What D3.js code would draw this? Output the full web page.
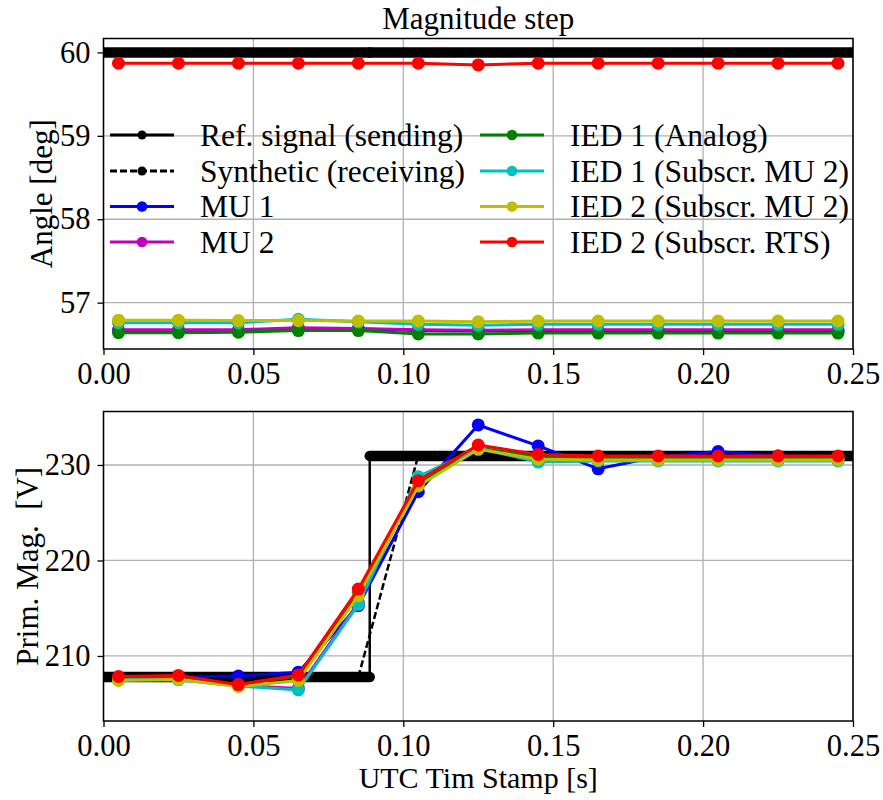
<!DOCTYPE html>
<html>
<head>
<meta charset="utf-8">
<script src="https://cdn.jsdelivr.net/npm/d3@7"></script>
<style>
  body { margin: 0; background: #fff; }
  text { font-family: "Liberation Serif", "Times New Roman", serif; fill: #000; }
</style>
</head>
<body>
<div id="chart"></div>
<script>
// sample instants of the reporting devices [s]
const sampleTime = [0.005, 0.025, 0.045, 0.065, 0.085, 0.105, 0.125, 0.145, 0.165, 0.185, 0.205, 0.225, 0.245];
const timeTicks = [0, 0.05, 0.10, 0.15, 0.20, 0.25];
const angleTicks = [57, 58, 59, 60];
const magTicks = [210, 220, 230];

// reference signal (sending), drawn as a step
const refTime = [0, 0.0888, 0.0888, 0.25];
const refAngle = [60, 60, 60, 60];
const refMag = [207.8, 207.8, 230.95, 230.95];

// angle [deg]
const synthAngle = [60, 60, 60, 60, 60, 60, 60, 60, 60, 60, 60, 60, 60];
const mu1Angle = [56.665, 56.665, 56.665, 56.69, 56.685, 56.665, 56.66, 56.665, 56.665, 56.665, 56.665, 56.665, 56.665];
const mu2Angle = [56.675, 56.675, 56.675, 56.70, 56.69, 56.675, 56.67, 56.675, 56.675, 56.675, 56.675, 56.675, 56.675];
const ied1AnalogAngle = [56.64, 56.64, 56.645, 56.665, 56.665, 56.625, 56.625, 56.635, 56.635, 56.635, 56.635, 56.635, 56.635];
const ied1Mu2Angle = [56.76, 56.76, 56.76, 56.80, 56.77, 56.74, 56.73, 56.74, 56.74, 56.74, 56.74, 56.74, 56.74];
const ied2Mu2Angle = [56.79, 56.79, 56.785, 56.785, 56.78, 56.78, 56.77, 56.78, 56.78, 56.78, 56.78, 56.78, 56.78];
const ied2RtsAngle = [59.87, 59.87, 59.87, 59.87, 59.87, 59.87, 59.85, 59.87, 59.87, 59.87, 59.87, 59.87, 59.87];

// primary magnitude [V]
const synthMag = [207.8, 207.8, 207.8, 207.8, 207.8, 231.0, 231.0, 230.95, 230.95, 230.95, 230.95, 230.95, 230.95];
const mu1Mag = [207.75, 207.8, 207.9, 208.3, 215.27, 227.2, 234.19, 232.0, 229.6, 230.85, 231.4, 230.95, 230.85];
const mu2Mag = [207.55, 207.6, 206.9, 206.6, 215.6, 228.5, 231.7, 230.4, 230.5, 230.5, 230.5, 230.5, 230.5];
const ied1AnalogMag = [207.6, 207.7, 207.0, 207.9, 216.6, 228.0, 231.8, 230.8, 230.7, 230.7, 230.7, 230.7, 230.7];
const ied1Mu2Mag = [207.5, 207.5, 206.86, 206.44, 215.4, 228.78, 231.78, 230.3, 230.42, 230.42, 230.42, 230.42, 230.42];
const ied2Mu2Mag = [207.43, 207.54, 206.8, 207.43, 216.3, 227.8, 231.64, 230.6, 230.52, 230.52, 230.52, 230.52, 230.52];
const ied2RtsMag = [207.85, 207.96, 207.0, 208.0, 217.0, 228.36, 232.09, 231.1, 230.94, 230.94, 230.94, 230.94, 230.94];

const seriesNames = ["MU 1", "MU 2", "IED 1 (Analog)", "IED 1 (Subscr. MU 2)", "IED 2 (Subscr. MU 2)", "IED 2 (Subscr. RTS)"];
const seriesColors = ["#0000ff", "#bf00bf", "#008000", "#00bfbf", "#bfbf00", "#ff0000"];
const angleSeries = [mu1Angle, mu2Angle, ied1AnalogAngle, ied1Mu2Angle, ied2Mu2Angle, ied2RtsAngle];
const magSeries = [mu1Mag, mu2Mag, ied1AnalogMag, ied1Mu2Mag, ied2Mu2Mag, ied2RtsMag];

const width = 883, height = 800;
const tickFont = 30.5, labelFont = 31, legendFont = 31.5;
const left = 103.5, right = 853;

const svg = d3.select("#chart").append("svg")
  .attr("width", width)
  .attr("height", height);

const xScale = d3.scaleLinear().domain([0, 0.25]).range([left, right]);

// draws one subplot: grid, data, spines and ticks
const draw_panel = function(cfg) {
  const yScale = d3.scaleLinear().domain(cfg.domain).range([cfg.bottom, cfg.top]);
  const clipId = "clip-" + cfg.id;
  svg.append("clipPath").attr("id", clipId)
    .append("rect")
    .attr("x", left).attr("y", cfg.top)
    .attr("width", right - left).attr("height", cfg.bottom - cfg.top);

  // grid
  const grid = svg.append("g");
  grid.selectAll("line.gx").data(timeTicks).join("line")
    .attr("x1", d => xScale(d)).attr("x2", d => xScale(d))
    .attr("y1", cfg.top).attr("y2", cfg.bottom)
    .attr("stroke", "#b0b0b0").attr("stroke-width", 1.3);
  grid.selectAll("line.gy").data(cfg.ticks).join("line")
    .attr("y1", d => yScale(d)).attr("y2", d => yScale(d))
    .attr("x1", left).attr("x2", right)
    .attr("stroke", "#b0b0b0").attr("stroke-width", 1.3);

  const plot = svg.append("g").attr("clip-path", `url(#${clipId})`);

  // reference signal: dense samples form a thick band, joined by a thin line
  const refPts = refTime.map((t, i) => ({t: t, v: cfg.ref[i]}));
  const thin = d3.line().x(d => xScale(d.t)).y(d => yScale(d.v));
  plot.append("path").attr("d", thin(refPts))
    .attr("fill", "none").attr("stroke", "#000").attr("stroke-width", 2.5);
  [[refPts[0], refPts[1]], [refPts[2], refPts[3]]].forEach(seg => {
    plot.append("path").attr("d", thin(seg))
      .attr("fill", "none").attr("stroke", "#000")
      .attr("stroke-width", 10.5).attr("stroke-linecap", "round");
  });

  // synthetic (receiving), dashed
  const synthPts = sampleTime.map((t, i) => ({t: t, v: cfg.synth[i]}));
  plot.append("path").attr("d", thin(synthPts))
    .attr("fill", "none").attr("stroke", "#000").attr("stroke-width", 2.5)
    .attr("stroke-dasharray", "7,3");
  plot.selectAll("circle.synth").data(synthPts).join("circle")
    .attr("cx", d => xScale(d.t)).attr("cy", d => yScale(d.v))
    .attr("r", 4.5).attr("fill", "#000");

  // device series
  cfg.series.forEach((vals, k) => {
    const pts = sampleTime.map((t, i) => ({t: t, v: vals[i]}));
    plot.append("path").attr("d", thin(pts))
      .attr("fill", "none").attr("stroke", seriesColors[k]).attr("stroke-width", 3);
    plot.selectAll("circle.s" + k).data(pts).join("circle")
      .attr("cx", d => xScale(d.t)).attr("cy", d => yScale(d.v))
      .attr("r", 6.5).attr("fill", seriesColors[k]);
  });

  // spines
  svg.append("rect")
    .attr("x", left).attr("y", cfg.top)
    .attr("width", right - left).attr("height", cfg.bottom - cfg.top)
    .attr("fill", "none").attr("stroke", "#000").attr("stroke-width", 1.5);

  // x axis ticks
  const xAxis = svg.append("g")
    .attr("transform", "translate(0," + cfg.bottom + ")")
    .call(d3.axisBottom(xScale).tickValues(timeTicks).tickFormat(d3.format(".2f"))
      .tickSize(6).tickPadding(7));
  xAxis.select(".domain").remove();
  xAxis.selectAll("line").attr("stroke-width", 1.3);
  xAxis.selectAll("text").style("font-size", tickFont + "px")
    .style("font-family", "Liberation Serif");

  // y axis ticks
  const yAxis = svg.append("g")
    .attr("transform", "translate(" + left + ",0)")
    .call(d3.axisLeft(yScale).tickValues(cfg.ticks).tickFormat(d3.format("d"))
      .tickSize(6).tickPadding(7));
  yAxis.select(".domain").remove();
  yAxis.selectAll("line").attr("stroke-width", 1.3);
  yAxis.selectAll("text").style("font-size", tickFont + "px")
    .style("font-family", "Liberation Serif");

  // y label
  svg.append("text")
    .attr("transform", `translate(${cfg.labelX},${(cfg.top + cfg.bottom) / 2}) rotate(-90)`)
    .attr("text-anchor", "middle")
    .attr("dominant-baseline", "central")
    .style("font-size", labelFont + "px")
    .style("white-space", "pre")
    .text(cfg.label);
  return yScale;
};

draw_panel({id: "angle", top: 38.5, bottom: 349, domain: [56.444, 60.167], ticks: angleTicks,
  ref: refAngle, synth: synthAngle, series: angleSeries, label: "Angle [deg]", labelX: 41});
draw_panel({id: "mag", top: 411.5, bottom: 721, domain: [203.19, 235.6], ticks: magTicks,
  ref: refMag, synth: synthMag, series: magSeries, label: "Prim. Mag.  [V]", labelX: 27});

// title and x label
svg.append("text")
  .attr("x", (left + right) / 2).attr("y", 29)
  .attr("text-anchor", "middle")
  .style("font-size", labelFont + "px")
  .text("Magnitude step");
svg.append("text")
  .attr("x", (left + right) / 2).attr("y", 788)
  .attr("text-anchor", "middle")
  .style("font-size", "30px")
  .text("UTC Tim Stamp [s]");

// legend (two columns, no frame)
const legendItems = [
  {name: "Ref. signal (sending)", color: "#000", dash: null, r: 4.5},
  {name: "Synthetic (receiving)", color: "#000", dash: "7,3", r: 4.5}
].concat(seriesNames.map((n, i) => ({name: n, color: seriesColors[i], dash: null, r: 5.3})));
const legendRowY = [135, 171, 206.5, 242];
const legendColX = [110, 480];
legendItems.forEach((item, i) => {
  const col = Math.floor(i / 4), row = i % 4;
  const g = svg.append("g")
    .attr("transform", `translate(${legendColX[col]},${legendRowY[row]})`);
  g.append("line").attr("x1", 0).attr("x2", 64).attr("y1", 0).attr("y2", 0)
    .attr("stroke", item.color).attr("stroke-width", 3)
    .attr("stroke-dasharray", item.dash);
  g.append("circle").attr("cx", 32).attr("cy", 0).attr("r", item.r).attr("fill", item.color);
  g.append("text").attr("x", 90).attr("y", 0)
    .attr("dominant-baseline", "central")
    .style("font-size", legendFont + "px")
    .text(item.name);
});
</script>
</body>
</html>
